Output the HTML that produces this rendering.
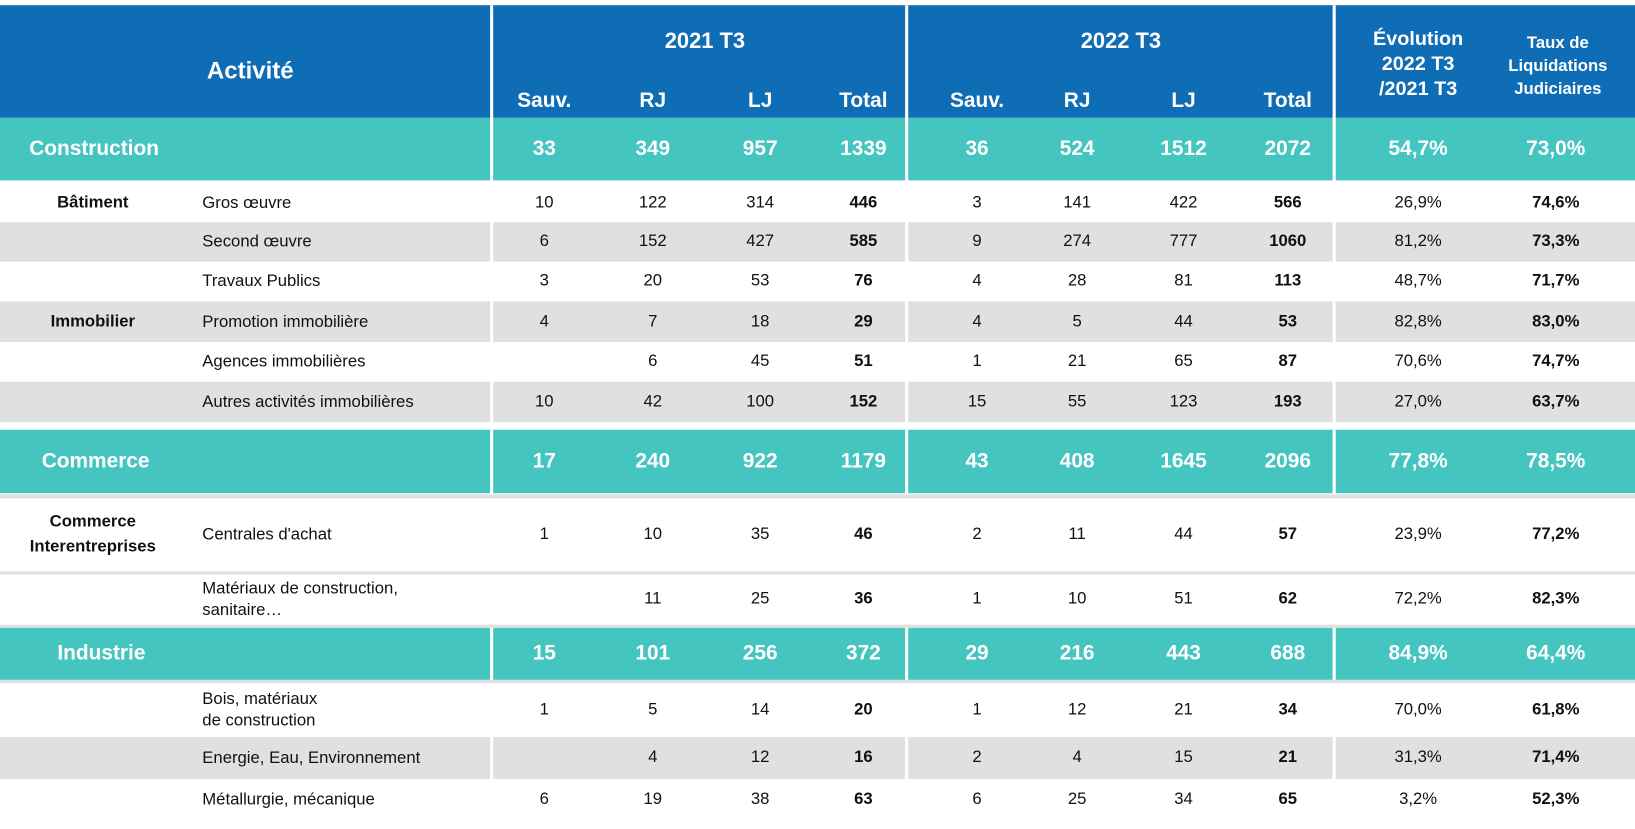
<!DOCTYPE html>
<html><head><meta charset="utf-8">
<style>
html,body{margin:0;padding:0;background:#fff;overflow:hidden;}
#wrap{position:absolute;left:0;top:0;width:1568px;height:795px;transform:scale(1.04273);transform-origin:0 0;font-family:"Liberation Sans",sans-serif;}
.bg{position:absolute;}
.t{position:absolute;transform:translate(-50%,-50%);white-space:nowrap;color:#111;font-size:16px;}
.l{position:absolute;transform:translateY(-50%);white-space:nowrap;color:#111;font-size:16px;line-height:21px;}
.h{color:#fff;font-weight:bold;font-size:20px;}
.b{font-weight:bold;}
.vl{position:absolute;width:3px;background:#fff;}
</style></head><body>
<div id="wrap">
  <div class="bg" style="left:0;top:5px;width:1568px;height:108px;background:#0F6DB5"></div>
  <div class="t h" style="left:240px;top:68px;font-size:23px">Activité</div>
  <div class="t h" style="left:676px;top:40px;font-size:21px">2021 T3</div>
  <div class="t h" style="left:1075px;top:40px;font-size:21px">2022 T3</div>
  <div class="t h" style="left:1360px;top:62px;text-align:center;line-height:24px;font-size:19px">Évolution<br>2022 T3<br>/2021 T3</div>
  <div class="t h" style="left:1494px;top:64px;text-align:center;line-height:22px;font-size:16px">Taux de<br>Liquidations<br>Judiciaires</div>
</div>
<script>
const colX=[522,626,729,828,937,1033,1135,1235,1360,1492];
const colHeads=["Sauv.","RJ","LJ","Total","Sauv.","RJ","LJ","Total"];
const groups=["Construction","Bâtiment","","","Immobilier","","","Commerce","Commerce<br>Interentreprises","","Industrie","","",""];
const subs=["","Gros œuvre","Second œuvre","Travaux Publics","Promotion immobilière","Agences immobilières","Autres activités immobilières","","Centrales d'achat","Matériaux de construction,<br>sanitaire…","","Bois, matériaux<br>de construction","Energie, Eau, Environnement","Métallurgie, mécanique"];
const v2021=[[33,349,957,1339],[10,122,314,446],[6,152,427,585],[3,20,53,76],[4,7,18,29],["",6,45,51],[10,42,100,152],[17,240,922,1179],[1,10,35,46],["",11,25,36],[15,101,256,372],[1,5,14,20],["",4,12,16],[6,19,38,63]];
const v2022=[[36,524,1512,2072],[3,141,422,566],[9,274,777,1060],[4,28,81,113],[4,5,44,53],[1,21,65,87],[15,55,123,193],[43,408,1645,2096],[2,11,44,57],[1,10,51,62],[29,216,443,688],[1,12,21,34],[2,4,15,21],[6,25,34,65]];
const evol=["54,7%","26,9%","81,2%","48,7%","82,8%","70,6%","27,0%","77,8%","23,9%","72,2%","84,9%","70,0%","31,3%","3,2%"];
const taux=["73,0%","74,6%","73,3%","71,7%","83,0%","74,7%","63,7%","78,5%","77,2%","82,3%","64,4%","61,8%","71,4%","52,3%"];
// layout
const rowY=[[113,173],[176,213],[213,251],[251,289],[289,328],[328,366],[366,405],[412,473],[478,548],[551,599],[602,652],[655,707],[707,747],[747,787]];
const kind=["cat","w","g","w","g","w","g","cat","w","w","cat","w","g","w"];
const catX=[28,0,0,0,0,0,0,40,0,0,55];
const W=document.getElementById('wrap');
function mk(cls,html,style){const d=document.createElement('div');d.className=cls;d.innerHTML=html;d.style.cssText=style;W.appendChild(d);return d;}
colHeads.forEach((h,i)=>{
  const d=mk('t h',h,`left:${colX[i]}px;top:97px`);
  
  
});
rowY.forEach((r,i)=>{
  const k=kind[i];
  const bgc=k=="cat"?"#45C5C0":(k=="g"?"#E0E0E0":"#fff");
  const bg=mk('bg','',`left:0;top:${r[0]}px;width:1568px;height:${r[1]-r[0]}px;background:${bgc}`);
  
  
  const cy=(r[0]+r[1])/2;
  const isCat=k=="cat";
  if(isCat){
    const c=mk('l h',groups[i],`left:${catX[i]}px;top:${cy}px;font-size:20px`);
    
    
  }else{
    if(groups[i]){
      const g=mk('t b',groups[i],`left:89px;top:${cy}px;text-align:center;line-height:24px`);
      
      
    }
    const s=mk('l',subs[i],`left:194px;top:${cy}px`);
    
    
  }
  const vals=v2021[i].concat(v2022[i],[evol[i],taux[i]]);
  vals.forEach((v,j)=>{
    if(v==="")return;
    let cls='t';
    if(isCat)cls+=' h';else if(j==3||j==7||j==9)cls+=' b';
    const d=mk(cls,String(v),`left:${colX[j]}px;top:${cy}px;${isCat?'font-size:20px':''}`);
    
    
  });
});
[470,868,1278].forEach(x=>{
  const v=mk('vl','',`left:${x}px;top:5px;height:782px`);
  
  
});
// separators
[[405,412,"#fff"],[474,478,"#E0E0E0"],[548,551,"#E0E0E0"],[599,602,"#E0E0E0"],[652,655,"#E0E0E0"]].forEach(s=>{
  const d=mk('bg','',`left:0;top:${s[0]}px;width:1568px;height:${s[1]-s[0]}px;background:${s[2]}`);
  
  
});
</script>
</body></html>
